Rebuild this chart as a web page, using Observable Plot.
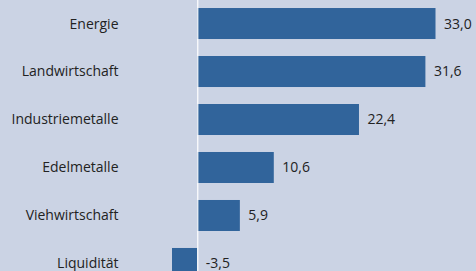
<!DOCTYPE html>
<html>
<head>
<meta charset="utf-8">
<script src="https://cdn.jsdelivr.net/npm/d3@7"></script>
<script src="https://cdn.jsdelivr.net/npm/@observablehq/plot@0.6"></script>
<style>
  html, body { margin: 0; padding: 0; background: #cbd3e4; overflow: hidden; }
  svg { display: block; }
</style>
</head>
<body>
<div id="chart"></div>
<script>
const categories = ["Energie", "Landwirtschaft", "Industriemetalle", "Edelmetalle", "Viehwirtschaft", "Liquidität"];
const values = [33.0, 31.6, 22.4, 10.6, 5.9, -3.5];
const valueLabels = ["33,0", "31,6", "22,4", "10,6", "5,9", "-3,5"];

const data = categories.map((c, i) => ({cat: c, value: values[i], label: valueLabels[i]}));

const chart = Plot.plot({
  width: 476,
  height: 290,
  marginLeft: 172,
  marginRight: 40.5,
  marginTop: 0,
  marginBottom: 3,
  style: {background: "#cbd3e4", fontFamily: "'Open Sans', sans-serif", fontSize: "14px", color: "#222"},
  x: {domain: d3.extent(values), axis: null},
  y: {domain: categories, paddingInner: 0.354, paddingOuter: 0.167, round: false, label: null},
  marks: [
    Plot.barX(data, {x: "value", y: "cat", fill: "#31649b"}),
    Plot.ruleX([0], {stroke: "white", strokeWidth: 1.2}),
    Plot.axisY({tickSize: 0, tickPadding: 54, fontSize: 14, fill: "#222", label: null}),
    Plot.text(data, {x: d => Math.max(0, d.value), y: "cat", text: "label", textAnchor: "start", dx: 8, fontSize: 14, fill: "#222"})
  ]
});
document.getElementById("chart").append(chart);
</script>
</body>
</html>
